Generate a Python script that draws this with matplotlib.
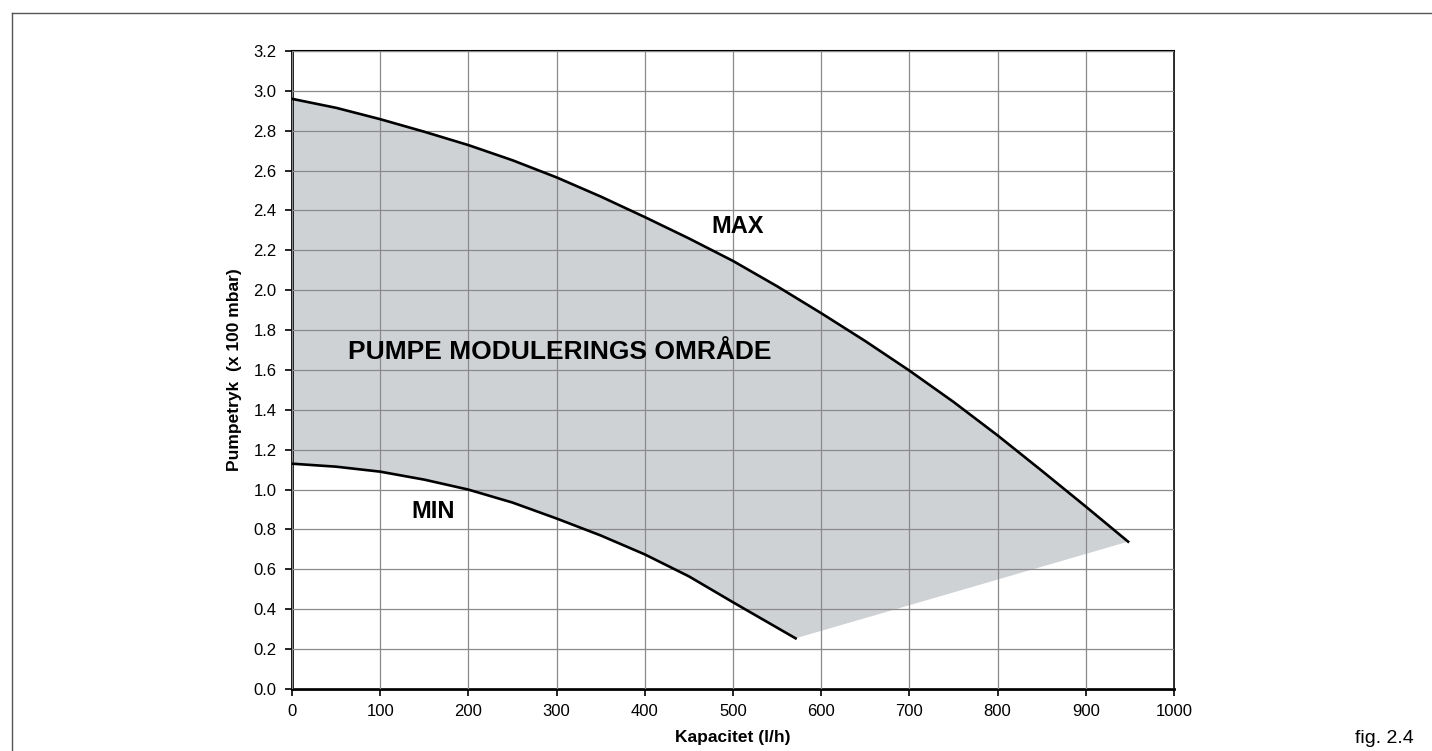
import matplotlib.pyplot as plt
from matplotlib.lines import Line2D
import numpy as np

plt.rcParams['font.family'] = ['Liberation Sans', 'DejaVu Sans']

# Pump curves
max_flow = [0, 50, 100, 150, 200, 250, 300, 350, 400, 450, 500,
            550, 600, 650, 700, 750, 800, 850, 900, 948]
max_press = [2.96, 2.915, 2.858, 2.795, 2.728, 2.652, 2.566, 2.470, 2.367, 2.26, 2.147,
             2.02, 1.885, 1.745, 1.597, 1.44, 1.272, 1.095, 0.915, 0.739]
min_flow = [0, 50, 100, 150, 200, 250, 300, 350, 400, 450, 500, 571]
min_press = [1.13, 1.115, 1.09, 1.05, 1.0, 0.935, 0.855, 0.77, 0.675, 0.565, 0.435, 0.254]

x_ticks = np.arange(0, 1001, 100)
y_ticks = np.arange(0, 3.21, 0.2)

fig = plt.figure(figsize=(14.32, 7.51), dpi=100)
ax = fig.add_axes([0.2039, 0.0826, 0.6159, 0.8495])

# shaded modulation range: max curve forward, min curve back
poly_x = list(max_flow) + list(min_flow[::-1])
poly_y = list(max_press) + list(min_press[::-1])
ax.fill(poly_x, poly_y, color="#cfd2d5", lw=0, zorder=1)

ax.plot(max_flow, max_press, color="black", lw=1.9, zorder=3, solid_joinstyle="round")
ax.plot(min_flow, min_press, color="black", lw=1.9, zorder=3, solid_joinstyle="round")

ax.set_xlim(0, 1000)
ax.set_ylim(0, 3.2)
ax.set_xticks(x_ticks)
ax.set_yticks(y_ticks)
ax.set_xticklabels([str(v) for v in x_ticks])
ax.set_yticklabels([f"{v:.1f}" for v in y_ticks])
ax.grid(True, color="#8a8a8a", lw=0.9, zorder=2)
ax.set_axisbelow(False)
ax.tick_params(direction="out", length=5, width=1.2, labelsize=12, pad=6)

for side in ["left", "bottom"]:
    ax.spines[side].set_linewidth(2.0)
ax.spines["top"].set_linewidth(1.5)
ax.spines["right"].set_linewidth(1.2)

ax.set_xlabel("Kapacitet (l/h)", fontsize=12.5, weight="bold", labelpad=8)
ax.set_ylabel("Pumpetryk  (x 100 mbar)", fontsize=12.5, weight="bold", labelpad=8)

ax.text(304, 1.69, "PUMPE MODULERINGS OMRÅDE", ha="center", va="center",
        fontsize=19, weight="bold", zorder=4)
ax.text(505, 2.32, "MAX", ha="center", va="center", fontsize=17, weight="bold", zorder=4)
ax.text(160, 0.89, "MIN", ha="center", va="center", fontsize=17, weight="bold", zorder=4)

fig.text(0.967, 0.017, "fig. 2.4", ha="center", va="center", fontsize=14)

# page frame (top and left edges)
fig.add_artist(Line2D([12 / 1432, 1.0], [1 - 13 / 751, 1 - 13 / 751],
                      transform=fig.transFigure, color="#555555", lw=1.0))
fig.add_artist(Line2D([12 / 1432, 12 / 1432], [0.0, 1 - 13 / 751],
                      transform=fig.transFigure, color="#555555", lw=1.0))

fig.savefig("out.png", dpi=100, facecolor="white")
